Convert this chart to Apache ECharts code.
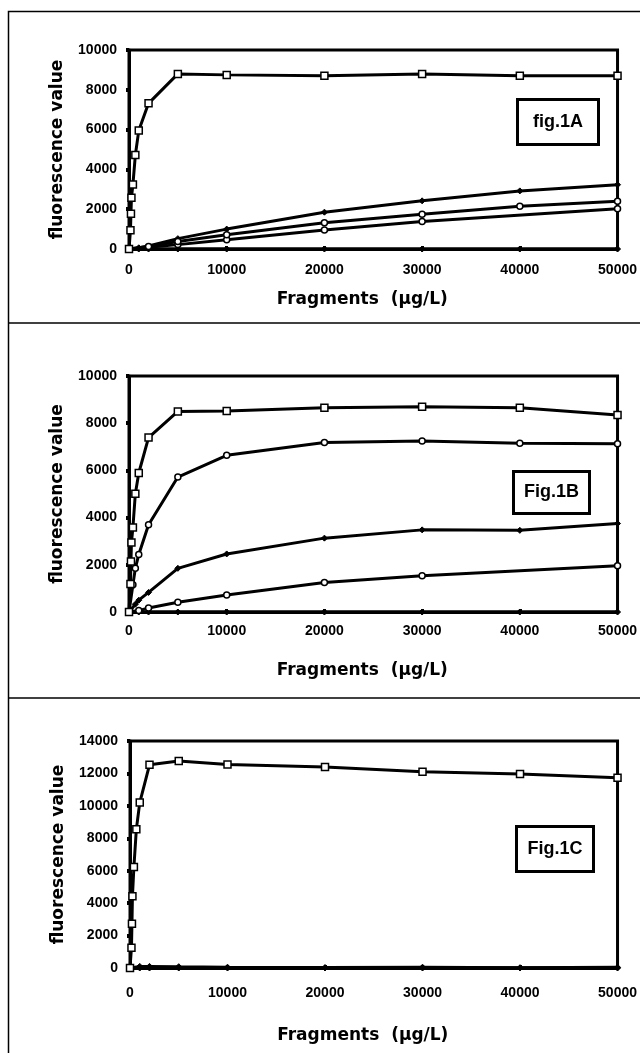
<!DOCTYPE html>
<html>
<head>
<meta charset="utf-8">
<script src="https://cdn.jsdelivr.net/npm/echarts@6/dist/echarts.min.js"></script>
<style>html,body{margin:0;padding:0;background:#fff}#c{width:640px;height:1053px}</style>
</head>
<body>
<div id="c"></div>
<script>
// ---- data ----
const xVals = [0, 150, 200, 250, 400, 650, 1000, 2000, 5000, 10000, 20000, 30000, 40000, 50000];
const xTicks = [0, 10000, 20000, 30000, 40000, 50000];
const yTicksAB = [0, 2000, 4000, 6000, 8000, 10000];
const yTicksC = [0, 2000, 4000, 6000, 8000, 10000, 12000, 14000];
const panelLabels = ['fig.1A', 'Fig.1B', 'Fig.1C'];
const xTitle = 'Fragments  (\u03bcg/L)';
const yTitle = 'fluorescence value';

// Panel A
const squaresA = [0, 940, 1770, 2580, 3240, 4720, 5950, 7320, 8800, 8750, 8700, 8800, 8700, 8700];
const filledA  = [0, null, null, null, null, null, 60, 150, 520, 1000, 1850, 2420, 2920, 3230];
const circMidA = [0, null, null, null, null, null, null, 120, 380, 720, 1320, 1750, 2150, 2400];
const circLowA = [0, null, null, null, null, null, null, 90, 220, 470, 960, 1380, null, 2020];
const zeroA    = [0, null, null, null, null, null, 0, 0, 0, 0, 0, 0, 0, 0];
// Panel B
const squaresB = [0, 1190, 2140, 2940, 3580, 5010, 5890, 7390, 8500, 8520, 8650, 8700, 8650, 8350];
const circB    = [0, null, null, null, 1150, 1850, 2440, 3700, 5720, 6640, 7180, 7250, 7150, 7130];
const filledB  = [0, null, null, null, null, 330, 500, 830, 1850, 2460, 3130, 3480, 3460, 3750];
const circLowB = [0, null, null, null, null, null, 60, 170, 410, 720, 1250, 1540, null, 1960];
const zeroB    = [0, null, null, null, null, null, 0, 0, 0, 0, 0, 0, 0, 0];
// Panel C
const squaresC = [0, 1250, 2730, 4420, 6230, 8550, 10200, 12530, 12770, 12550, 12400, 12100, 11970, 11730];
const lowC     = [0, null, null, null, null, null, 100, 100, 80, 50, 30, 50, 20, 40];
const zeroC    = [0, null, null, null, null, null, 0, 0, 0, 0, 0, 0, 0, 0];

// ---- helpers ----
const FONT = 'DejaVu Sans';
const TICKFONT = 'Liberation Sans';
const pair = (ys) => xVals.map((x, i) => [x, ys[i]]);
const styles = {
  square: { symbol: 'rect', symbolSize: 7, itemStyle: { color: '#fff', borderColor: '#000', borderWidth: 1.5 } },
  circle: { symbol: 'circle', symbolSize: 6, itemStyle: { color: '#fff', borderColor: '#000', borderWidth: 1.5 } },
  filled: { symbol: 'diamond', symbolSize: 6, itemStyle: { color: '#000', borderColor: '#000', borderWidth: 1 } }
};
function line(ys, kind, idx) {
  return Object.assign({
    type: 'line', data: pair(ys), xAxisIndex: idx, yAxisIndex: idx,
    connectNulls: true, showAllSymbol: true, silent: true,
    lineStyle: { color: '#000', width: 3 }, z: kind === 'filled' ? 3 : 4
  }, styles[kind]);
}

const grids = [
  { left: 129, top: 50, width: 494, height: 199 },
  { left: 129, top: 376, width: 494, height: 236 },
  { left: 130, top: 741, width: 493, height: 227 }
];
const xNameGaps = [42, 50, 59];
const xLabelMargins = [14, 12, 18];
const yMax = [yTicksAB[yTicksAB.length - 1], yTicksAB[yTicksAB.length - 1], yTicksC[yTicksC.length - 1]];

const option = {
  animation: false,
  backgroundColor: '#fff',
  grid: grids.map(g => Object.assign({ show: true, borderColor: '#000', borderWidth: 3, backgroundColor: 'transparent' }, g)),
  xAxis: grids.map((g, i) => ({
    type: 'value', gridIndex: i, min: xTicks[0], max: xTicks[xTicks.length - 1], interval: 10000,
    name: xTitle, nameLocation: 'middle', nameGap: xNameGaps[i],
    nameTextStyle: { fontFamily: FONT, fontWeight: 'bold', fontSize: 17, color: '#000', padding: [0, 22, 0, 0] },
    axisLine: { show: true, lineStyle: { color: '#000', width: 3 } },
    axisTick: { show: true, inside: true, length: 3, lineStyle: { color: '#000', width: 3 } },
    axisLabel: { fontFamily: TICKFONT, fontWeight: 'bold', fontSize: 14, color: '#000', margin: xLabelMargins[i], formatter: v => String(v) },
    splitLine: { show: false }
  })),
  yAxis: grids.map((g, i) => ({
    type: 'value', gridIndex: i, min: 0, max: yMax[i], interval: 2000,
    name: yTitle, nameLocation: 'middle', nameGap: 63, nameRotate: 90,
    nameTextStyle: { fontFamily: FONT, fontWeight: 'bold', fontSize: 17, color: '#000' },
    axisLine: { show: true, lineStyle: { color: '#000', width: 3 } },
    axisTick: { show: true, length: 3, lineStyle: { color: '#000', width: 4 } },
    axisLabel: { fontFamily: TICKFONT, fontWeight: 'bold', fontSize: 14, color: '#000', margin: 12, formatter: v => String(v) },
    splitLine: { show: false }
  })),
  series: [
    line(zeroA, 'filled', 0), line(circLowA, 'circle', 0), line(circMidA, 'circle', 0), line(filledA, 'filled', 0), line(squaresA, 'square', 0),
    line(zeroB, 'filled', 1), line(circLowB, 'circle', 1), line(filledB, 'filled', 1), line(circB, 'circle', 1), line(squaresB, 'square', 1),
    line(zeroC, 'filled', 2), line(lowC, 'filled', 2), line(squaresC, 'square', 2)
  ],
  graphic: [
    { type: 'rect', shape: { x: 8.5, y: 11.5, width: 640, height: 1050 }, style: { fill: 'none', stroke: '#000', lineWidth: 1.5 }, silent: true },
    { type: 'line', shape: { x1: 8, y1: 323, x2: 640, y2: 323 }, style: { stroke: '#000', lineWidth: 1.5 }, silent: true },
    { type: 'line', shape: { x1: 8, y1: 698, x2: 640, y2: 698 }, style: { stroke: '#000', lineWidth: 1.5 }, silent: true },
    ...[[516, 98, 81, 45], [512, 470, 76, 42], [515, 825, 77, 45]].map((b, i) => ({
      type: 'group', left: b[0], top: b[1], z: 10,
      children: [
        { type: 'rect', shape: { x: 0, y: 0, width: b[2], height: b[3] }, style: { fill: '#fff', stroke: '#000', lineWidth: 3 } },
        { type: 'text', x: b[2] / 2, y: b[3] / 2, style: { text: panelLabels[i], fontFamily: 'Liberation Sans', fontSize: 18, fontWeight: 'bold', fill: '#000', textAlign: 'center', textVerticalAlign: 'middle' } }
      ]
    }))
  ]
};
echarts.init(document.getElementById('c'), null, { renderer: 'canvas' }).setOption(option);
</script>
</body>
</html>
